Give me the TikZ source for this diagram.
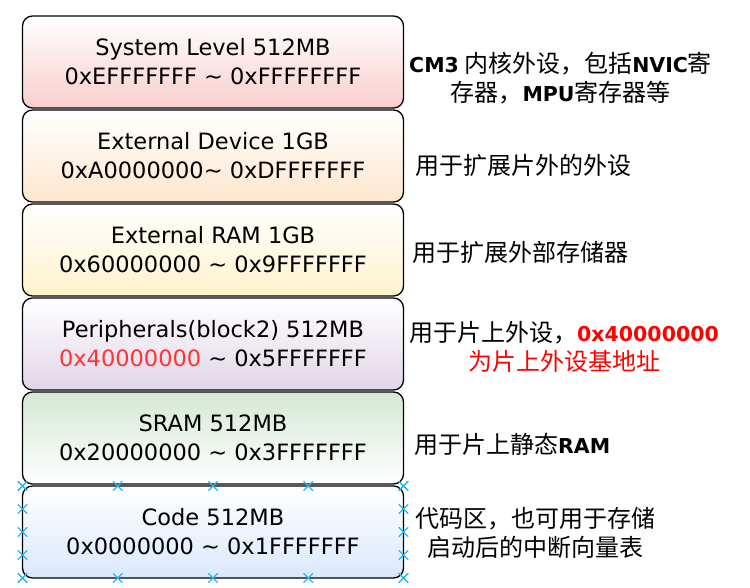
\documentclass[tikz,border=0pt]{standalone}
\usepackage{fontspec}
\setmainfont{DejaVu Sans}
\newfontfamily\cjk{Noto Sans CJK SC}
\usetikzlibrary{positioning,calc,shapes.misc}
\definecolor{SysC}{HTML}{F8CECC}
\definecolor{DevC}{HTML}{FFE6CC}
\definecolor{XramC}{HTML}{FFF2CC}
\definecolor{PeriC}{HTML}{E1D5E7}
\definecolor{SramC}{HTML}{D5E8D4}
\definecolor{CodeC}{HTML}{DAE8FC}
\definecolor{Alert}{HTML}{FF3333}
\definecolor{Handle}{HTML}{29B6F2}
\newcommand{\latn}[1]{{\normalfont\bfseries\fontsize{20.5}{29}\selectfont #1}}
\tikzset{
  region/.style={draw=black, line width=1.3pt, rounded corners=10pt,
    minimum width=381pt, minimum height=92pt, inner sep=0pt, outer sep=0pt,
    align=center, font=\fontsize{22.5}{29}\selectfont},
  note/.style={font=\cjk\fontsize{24}{29}\selectfont, align=center,
    inner sep=0pt, anchor=west},
  handle/.style={cross out, draw=Handle, line width=1.3pt,
    minimum size=8pt, inner sep=0pt}
}

\begin{document}
\begin{tikzpicture}[x=1pt,y=-1pt]
  \useasboundingbox (0,0) rectangle (750,588);
  % memory regions, top to bottom
  \node[region, top color=white, bottom color=SysC] (sys) at (213,62)
    {System Level 512MB\\0xEFFFFFFF \textasciitilde{} 0xFFFFFFFF};
  \node[region, top color=white, bottom color=DevC, below=2pt of sys] (extdev)
    {External Device 1GB\\0xA0000000\textasciitilde{} 0xDFFFFFFF};
  \node[region, top color=white, bottom color=XramC, below=2pt of extdev] (extram)
    {External RAM 1GB\\0x60000000 \textasciitilde{} 0x9FFFFFFF};
  \node[region, top color=white, bottom color=PeriC, below=2pt of extram] (periph)
    {Peripherals(block2) 512MB\\{\color{Alert}0x40000000} \textasciitilde{} 0x5FFFFFFF};
  \node[region, top color=SramC, bottom color=white, below=2pt of periph] (sram)
    {SRAM 512MB\\0x20000000 \textasciitilde{} 0x3FFFFFFF};
  \node[region, top color=white, bottom color=CodeC, below=2pt of sram] (code)
    {Code 512MB\\0x0000000 \textasciitilde{} 0x1FFFFFFF};

  % notes on the right
  \node[note] (sysnote) at (409,78)
    {\latn{CM3} 内核外设，包括\latn{NVIC}寄\\存器，\latn{MPU}寄存器等};
  \node[note] (devnote) at (415,165) {用于扩展片外的外设};
  \node[note] (ramnote) at (412,252) {用于扩展外部存储器};
  \node[note] (perinote) at (409,347)
    {用于片上外设，{\color{red}\latn{0x40000000}}\\{\color{red}为片上外设基地址}};
  \node[note] (sramnote) at (414,444) {用于片上静态\latn{RAM}};
  \node[note] (codenote) at (415,533)
    {代码区，也可用于存储\\启动后的中断向量表};

  % selection handles round the code box
  \foreach \i/\f in {0/0,1/0.25,2/0.5,3/0.75,4/1} {
    \node[handle] (ht\i) at ($(code.north west)!\f!(code.north east)$) {};
    \node[handle] (hb\i) at ($(code.south west)!\f!(code.south east)$) {};
    \node[handle] (hl\i) at ($(code.north west)!\f!(code.south west)$) {};
    \node[handle] (hr\i) at ($(code.north east)!\f!(code.south east)$) {};
  }
\end{tikzpicture}
\end{document}
